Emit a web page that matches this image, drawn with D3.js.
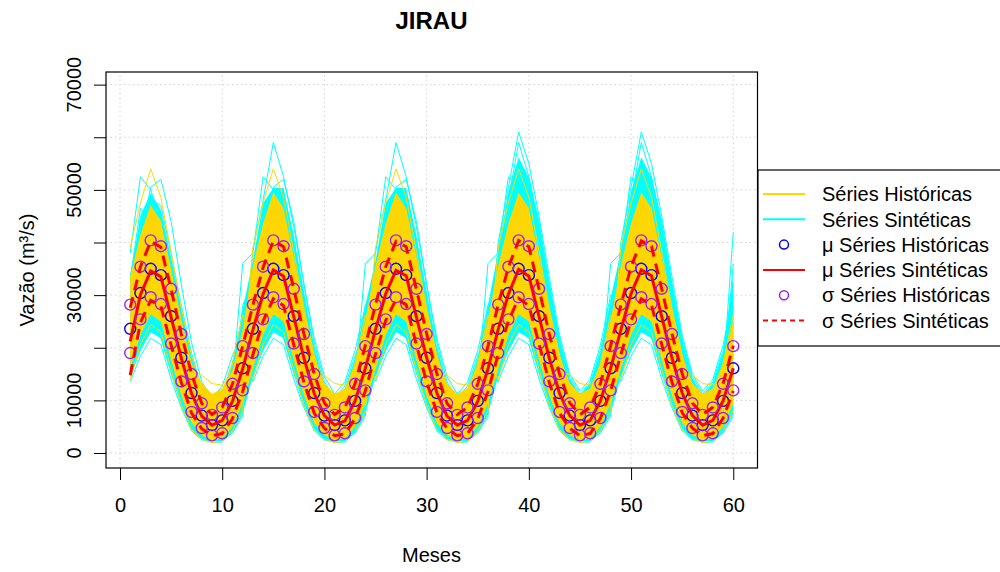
<!DOCTYPE html>
<html lang="pt">
<head>
<meta charset="UTF-8">
<title>JIRAU</title>
<style>
  body { margin: 0; background: #fff; }
  svg text { font-family: "Liberation Sans", Arial, Helvetica, sans-serif; fill: #000; }
</style>
</head>
<body>
<svg width="1000" height="572"></svg>
<script src="https://cdnjs.cloudflare.com/ajax/libs/d3/7.8.5/d3.min.js"></script>
<script>
// meses do eixo x (1..60)
const months = d3.range(1, 61);
const xTicks = [0, 10, 20, 30, 40, 50, 60];
const yTicks = [0, 10000, 20000, 30000, 40000, 50000, 60000, 70000];
const yLabels = [0, 10000, 30000, 50000, 70000];

// anos historicos (m3/s), jan..dez
const histYears = [
  [19900, 26400, 30700, 29400, 21800, 14500, 8500, 5200, 3700, 4200, 7300, 12700],
  [26400, 33400, 38200, 37100, 29100, 20800, 13600, 8500, 6500, 7700, 11900, 18600],
  [22200, 28900, 33400, 32200, 24400, 16700, 10300, 6400, 4700, 5400, 8900, 14800],
  [29100, 36500, 41500, 40400, 32200, 23500, 15700, 9900, 7600, 9100, 13800, 21100],
  [17600, 23900, 28000, 26600, 19200, 12300, 6800, 4000, 2700, 3100, 5700, 10600],
  [24100, 30900, 35500, 34400, 26500, 18600, 11800, 7300, 5500, 6400, 10200, 16500],
  [39000, 47500, 54000, 48600, 38300, 27500, 18500, 12000, 9600, 11700, 17000, 26200],
  [20800, 27300, 31800, 30500, 22900, 15400, 9200, 5700, 4100, 4800, 8000, 13600],
  [27800, 34900, 39800, 38700, 30700, 22400, 15900, 14800, 13200, 12900, 14800, 20200],
  [19000, 25200, 29600, 28300, 20800, 13600, 7800, 4700, 3300, 3700, 6600, 11900],
  [25000, 31900, 36600, 35500, 27600, 19500, 12500, 7800, 5900, 6900, 10900, 17400],
  [14000, 20600, 24400, 23000, 15800, 9200, 4400, 2600, 2000, 2200, 4200, 8000],
  [32800, 40400, 45800, 44800, 36400, 27100, 18600, 11800, 9200, 11100, 16400, 24500],
  [23600, 30400, 35000, 33800, 26000, 18100, 11400, 7100, 5300, 6200, 9900, 16100],
  [21800, 28400, 32800, 31600, 23900, 16300, 9900, 6200, 4500, 5200, 8600, 14400],
  [25200, 32000, 37900, 40100, 31600, 21700, 14200, 8900, 6800, 8100, 12500, 19500]
];

// anos sinteticos (m3/s), jan..dez
const synthYears = [
  [25600, 32800, 37600, 36400, 28400, 20100, 12900, 8100, 6100, 7200, 11300, 18000],
  [17600, 23200, 27100, 25900, 18800, 12100, 6800, 4000, 3000, 3100, 5600, 10300],
  [28600, 36400, 41600, 40400, 32000, 23100, 15200, 9700, 7400, 8800, 13500, 24500],
  [21100, 27400, 31700, 30500, 23000, 15600, 9500, 5800, 4300, 4900, 8100, 13700],
  [33600, 42400, 48200, 47000, 38000, 28100, 19000, 12300, 9500, 11400, 17100, 25700],
  [14600, 19600, 23100, 21900, 15200, 9100, 4600, 2600, 2000, 2100, 4000, 7500],
  [27100, 34600, 39600, 38400, 30200, 21600, 14100, 8900, 6800, 8000, 12400, 19500],
  [26500, 36000, 34000, 29000, 22000, 16000, 10200, 6300, 4800, 5700, 9600, 28000],
  [33000, 46500, 44000, 38500, 30500, 23000, 15500, 9800, 7500, 8900, 13800, 21500],
  [19100, 25000, 29100, 27900, 20600, 13600, 8000, 4800, 3500, 3900, 6700, 11800],
  [24600, 31600, 36300, 35100, 27200, 19100, 12200, 7600, 5700, 6700, 10600, 17100],
  [31000, 40500, 50500, 52000, 44000, 32000, 21000, 13500, 10500, 12700, 18500, 23000],
  [16100, 21400, 25100, 23900, 17000, 10600, 5700, 3200, 2600, 2600, 4800, 8900],
  [28100, 35800, 41000, 39700, 31400, 22600, 14800, 9400, 7200, 8500, 13100, 36000],
  [38000, 52500, 50000, 44500, 35500, 26500, 18000, 11600, 9000, 10700, 16000, 24800],
  [20100, 26200, 30400, 29200, 21800, 14600, 8700, 5300, 3900, 4400, 7400, 12700],
  [26100, 33400, 38300, 37100, 29000, 20600, 13300, 8400, 6300, 7500, 11700, 18500],
  [13600, 18400, 21800, 20600, 14000, 8600, 4200, 2500, 2300, 2400, 3800, 7000],
  [29100, 37000, 42300, 41100, 32600, 23600, 15600, 10000, 7600, 9100, 13900, 21400],
  [22100, 28600, 33000, 31800, 24200, 16600, 10300, 6300, 4700, 5400, 8800, 14700],
  [38500, 48000, 59000, 52500, 43000, 32000, 21800, 14500, 11200, 13500, 19500, 28000],
  [23600, 30400, 35000, 33800, 26000, 18100, 11400, 7100, 5300, 6200, 9900, 16100],
  [40000, 50500, 61000, 55000, 45000, 33500, 22500, 15000, 11800, 14000, 20500, 30000],
  [30000, 38200, 43600, 42200, 33600, 24600, 16100, 10400, 8200, 9600, 14600, 42000]
];

// estatisticas mensais historicas
const histMean = [23600, 30400, 35000, 33800, 26000, 18100, 11400, 7100, 5300, 6200, 9900, 16100];
const histSd = [4600, 5000, 5400, 5500, 5200, 4500, 3600, 2350, 1950, 2450, 3250, 4200];

// estatisticas das series sinteticas (por mes, 60)
const synthMean = [
  21200, 30100, 34600, 33500, 25800, 18000, 11300, 7000, 5300, 6200, 9800, 16000,
  23400, 30200, 34800, 33600, 25900, 18000, 11300, 7100, 5300, 6100, 9900, 16100,
  23500, 30300, 34700, 33700, 25800, 18100, 11400, 7000, 5300, 6200, 9800, 16000,
  23500, 30200, 34900, 33600, 25900, 18000, 11300, 7100, 5300, 6200, 9900, 16100,
  23400, 30300, 34800, 33700, 25900, 18100, 11400, 7100, 5300, 6200, 9900, 16100
];
const synthSd = [
  6400, 5300, 5600, 5600, 5300, 4600, 3700, 2400, 2000, 2500, 3300, 4300,
  4700, 5100, 5500, 5600, 5300, 4600, 3700, 2400, 2000, 2500, 3300, 4300,
  4700, 5100, 5500, 5500, 5300, 4600, 3700, 2400, 2000, 2500, 3300, 4300,
  4700, 5100, 5500, 5600, 5200, 4600, 3700, 2400, 2000, 2500, 3300, 4300,
  4700, 5100, 5500, 5600, 5300, 4600, 3700, 2400, 2000, 2500, 3300, 4300
];

const legendItems = [
  {label: 'Séries Históricas', type: 'line', color: '#FFD700'},
  {label: 'Séries Sintéticas', type: 'line', color: '#00FFFF'},
  {label: 'μ Séries Históricas', type: 'circle', color: '#0000FF'},
  {label: 'μ Séries Sintéticas', type: 'line', color: '#FF0000'},
  {label: 'σ Séries Históricas', type: 'circle', color: '#A020F0'},
  {label: 'σ Séries Sintéticas', type: 'dash', color: '#FF0000'}
];

// series de 5 anos consecutivos
const histSeries = d3.range(histYears.length - 4).map(s => histYears.slice(s, s + 5).flat());
const synthSeries = d3.range(synthYears.length - 4).map(s => synthYears.slice(s, s + 5).flat());

const svg = d3.select('svg');
const x = d3.scaleLinear().domain([-1.37, 62.37]).range([106, 757.5]);
const y = d3.scaleLinear().domain([-2850, 72400]).range([468, 72]);

svg.append('rect').attr('width', 1000).attr('height', 572).attr('fill', '#fff');

svg.append('clipPath').attr('id', 'clip')
  .append('rect')
  .attr('x', x.range()[0]).attr('y', y.range()[1])
  .attr('width', x.range()[1] - x.range()[0])
  .attr('height', y.range()[0] - y.range()[1]);

// grade pontilhada
const grid = svg.append('g');
grid.selectAll('line.gx').data(xTicks).join('line')
  .attr('x1', d => x(d)).attr('x2', d => x(d))
  .attr('y1', y.range()[0]).attr('y2', y.range()[1]);
grid.selectAll('line.gy').data(yTicks).join('line')
  .attr('class', 'gy')
  .attr('x1', x.range()[0]).attr('x2', x.range()[1])
  .attr('y1', d => y(d)).attr('y2', d => y(d));
grid.selectAll('line')
  .attr('stroke', '#d3d3d3').attr('stroke-width', 1)
  .attr('stroke-dasharray', '1.5,3');

const plot = svg.append('g').attr('clip-path', 'url(#clip)');

const line = d3.line().x((d, i) => x(months[i])).y(d => y(d));
const band = d3.area().x((d, i) => x(months[i])).y0(d => y(d[0])).y1(d => y(d[1]));

// faixa entre quantis das series em cada mes
function envelope(series, lo, hi) {
  return months.map((m, i) => {
    const v = series.map(s => s[i]).sort(d3.ascending);
    return [d3.quantile(v, lo), d3.quantile(v, hi)];
  });
}

// series sinteticas
plot.append('path').datum(envelope(synthSeries, 0.05, 0.93))
  .attr('d', band).attr('fill', '#00FFFF');
plot.selectAll('path.syn').data(synthSeries).join('path')
  .attr('class', 'syn')
  .attr('d', line).attr('fill', 'none')
  .attr('stroke', '#00FFFF').attr('stroke-width', 1);

// series historicas
plot.append('path').datum(envelope(histSeries, 0.05, 0.95))
  .attr('d', band).attr('fill', '#FFD700');
plot.selectAll('path.hist').data(histSeries).join('path')
  .attr('class', 'hist')
  .attr('d', line).attr('fill', 'none')
  .attr('stroke', '#FFD700').attr('stroke-width', 1);

// media historica
plot.selectAll('circle.mu').data(months).join('circle')
  .attr('class', 'mu')
  .attr('cx', d => x(d)).attr('cy', d => y(histMean[(d - 1) % 12]))
  .attr('r', 5.5).attr('fill', 'none')
  .attr('stroke', '#0000FF').attr('stroke-width', 1.4);

// media sintetica
plot.append('path').datum(synthMean)
  .attr('d', line).attr('fill', 'none')
  .attr('stroke', '#FF0000').attr('stroke-width', 3);

// desvio historico
const sdPoints = months.flatMap(d => [
  {m: d, v: histMean[(d - 1) % 12] + histSd[(d - 1) % 12]},
  {m: d, v: histMean[(d - 1) % 12] - histSd[(d - 1) % 12]}
]);
plot.selectAll('circle.sd').data(sdPoints).join('circle')
  .attr('class', 'sd')
  .attr('cx', d => x(d.m)).attr('cy', d => y(d.v))
  .attr('r', 5.5).attr('fill', 'none')
  .attr('stroke', '#A020F0').attr('stroke-width', 1.4);

// desvio sintetico
[1, -1].forEach(k => {
  plot.append('path').datum(synthMean.map((v, i) => v + k * synthSd[i]))
    .attr('d', line).attr('fill', 'none')
    .attr('stroke', '#FF0000').attr('stroke-width', 3)
    .attr('stroke-dasharray', '11,7');
});

// eixos
const xAxis = svg.append('g')
  .attr('transform', `translate(0,${y.range()[0]})`)
  .call(d3.axisBottom(x).tickValues(xTicks).tickSize(12).tickPadding(18).tickSizeOuter(0));
xAxis.select('.domain').remove();
xAxis.selectAll('text').attr('font-size', 20).attr('font-family', '"Liberation Sans", Arial, sans-serif');

const yAxis = svg.append('g')
  .attr('transform', `translate(${x.range()[0]},0)`)
  .call(d3.axisLeft(y).tickValues(yTicks).tickSize(12).tickFormat('').tickSizeOuter(0));
yAxis.select('.domain').remove();
svg.selectAll('line').filter(function () { return this.parentNode.classList.contains('tick'); })
  .attr('stroke', '#000');

svg.append('g').selectAll('text').data(yLabels).join('text')
  .attr('transform', d => `translate(81,${y(d)}) rotate(-90)`)
  .attr('text-anchor', 'middle').attr('font-size', 20)
  .text(d => d);

// caixa do grafico
svg.append('rect')
  .attr('x', x.range()[0]).attr('y', y.range()[1])
  .attr('width', x.range()[1] - x.range()[0])
  .attr('height', y.range()[0] - y.range()[1])
  .attr('fill', 'none').attr('stroke', '#000').attr('stroke-width', 1.2);

// titulos
svg.append('text').attr('x', 431.5).attr('y', 29)
  .attr('text-anchor', 'middle').attr('font-size', 24).attr('font-weight', 'bold')
  .text('JIRAU');
svg.append('text').attr('x', 431.5).attr('y', 562)
  .attr('text-anchor', 'middle').attr('font-size', 20)
  .text('Meses');
svg.append('text').attr('transform', 'translate(34,270) rotate(-90)')
  .attr('text-anchor', 'middle').attr('font-size', 20)
  .text('Vazão (m³/s)');

// legenda
const legend = svg.append('g').attr('transform', 'translate(758,170)');
legend.append('rect').attr('width', 260).attr('height', 176)
  .attr('fill', '#fff').attr('stroke', '#000').attr('stroke-width', 1.2);
const rows = legend.selectAll('g').data(legendItems).join('g')
  .attr('transform', (d, i) => `translate(0,${24 + i * 25.3})`);
rows.filter(d => d.type !== 'circle').append('line')
  .attr('x1', 5).attr('x2', 47).attr('y1', 0).attr('y2', 0)
  .attr('stroke', d => d.color).attr('stroke-width', 2)
  .attr('stroke-dasharray', d => d.type === 'dash' ? '5,4' : null);
rows.filter(d => d.type === 'circle').append('circle')
  .attr('cx', 26).attr('cy', 0).attr('r', 4.5)
  .attr('fill', 'none').attr('stroke', d => d.color).attr('stroke-width', 1.5);
rows.append('text').attr('x', 64).attr('dy', '0.36em')
  .attr('font-size', 20).text(d => d.label);
</script>
</body>
</html>
